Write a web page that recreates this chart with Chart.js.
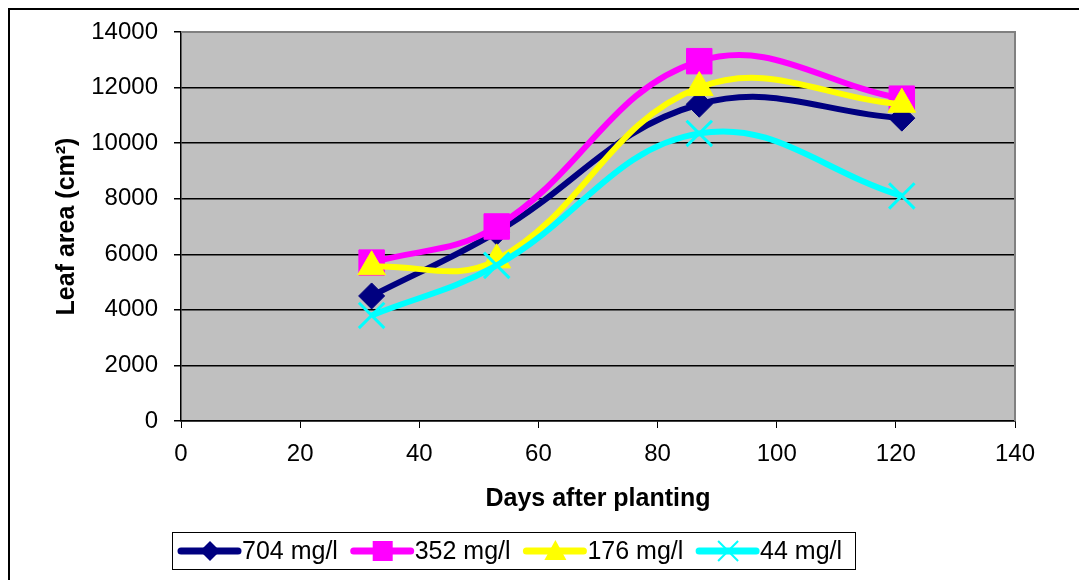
<!DOCTYPE html>
<html>
<head>
<meta charset="utf-8">
<script src="https://cdn.jsdelivr.net/npm/chart.js@4"></script>
<style>
  body { margin: 0; background: #fff; }
  #wrap { width: 1079px; height: 580px; }
</style>
</head>
<body>
<div id="wrap"><canvas id="myChart" width="1079" height="580"></canvas></div>
<script>
const days = [32, 53, 87, 121];
const seriesNames = ['704 mg/l', '352 mg/l', '176 mg/l', '44 mg/l'];
const leaf704 = [4500, 6800, 11400, 10900];
const leaf352 = [5700, 7000, 12950, 11600];
const leaf176 = [5550, 5800, 12000, 11400];
const leaf44 = [3800, 5600, 10350, 8100];
const xTicks = [0, 20, 40, 60, 80, 100, 120, 140];
const yTicks = [0, 2000, 4000, 6000, 8000, 10000, 12000, 14000];

const colors = ['#000080', '#FF00FF', '#FFFF00', '#00FFFF'];
const markers = ['rectRot', 'rect', 'triangle', 'crossRot'];
const radii = [13, 18, 16, 18];

function points(values) {
    return days.map((d, i) => ({ x: d, y: values[i] }))
}

const allValues = [leaf704, leaf352, leaf176, leaf44];

const datasets = allValues.map((vals, i) => ({
    label: seriesNames[i],
    data: points(vals),
    borderColor: colors[i],
    backgroundColor: colors[i],
    borderWidth: 6,
    tension: 0.4,
    pointStyle: markers[i],
    pointRadius: radii[i],
    pointHoverRadius: radii[i],
    pointBackgroundColor: colors[i],
    pointBorderColor: colors[i],
    pointBorderWidth: markers[i] == 'crossRot' ? 3 : 1,
    order: 3 - i,
}));

// grey plot area + frame + legend box
const decor = {
    id: 'decor',
    beforeDraw(chart) {
        const ctx = chart.ctx, a = chart.chartArea;
        ctx.save();
        ctx.fillStyle = '#fff';
        ctx.fillRect(0, 0, chart.width, chart.height);
        ctx.strokeStyle = '#000';
        ctx.lineWidth = 2;
        ctx.strokeRect(9, 9, chart.width + 20, chart.height + 20);
        ctx.fillStyle = '#C0C0C0';
        ctx.fillRect(a.left, a.top, a.right - a.left, a.bottom - a.top);
        ctx.restore();
    },
    beforeDatasetsDraw(chart) {
        const ctx = chart.ctx, a = chart.chartArea;
        ctx.save();
        ctx.strokeStyle = '#808080';
        ctx.lineWidth = 2;
        ctx.beginPath();
        ctx.moveTo(a.left, a.top);
        ctx.lineTo(a.right, a.top);
        ctx.lineTo(a.right, a.bottom);
        ctx.stroke();
        ctx.restore();
    },
    afterDraw(chart) {
        const ctx = chart.ctx;
        ctx.save();
        ctx.strokeStyle = '#000';
        ctx.lineWidth = 1;
        ctx.strokeRect(172.5, 532.5, 683, 37);
        const cy = 551;
        chart.data.datasets.forEach((ds, i) => {
            const x0 = 178 + i * 172.7;
            ctx.strokeStyle = ds.borderColor;
            ctx.lineWidth = 7;
            ctx.lineCap = 'round';
            ctx.beginPath();
            ctx.moveTo(x0 + 3, cy);
            ctx.lineTo(x0 + 60, cy);
            ctx.stroke();
            const mx = x0 + 32;
            ctx.fillStyle = ds.borderColor;
            ctx.lineWidth = 2;
            ctx.lineCap = 'butt';
            ctx.beginPath();
            if (ds.pointStyle == 'rectRot') {
                ctx.moveTo(mx, cy - 10); ctx.lineTo(mx + 10, cy); ctx.lineTo(mx, cy + 10); ctx.lineTo(mx - 10, cy);
                ctx.closePath(); ctx.fill();
            } else if (ds.pointStyle == 'rect') {
                ctx.rect(mx - 10, cy - 10, 20, 20); ctx.fill();
            } else if (ds.pointStyle == 'triangle') {
                ctx.moveTo(mx, cy - 11); ctx.lineTo(mx + 11, cy + 9); ctx.lineTo(mx - 11, cy + 9);
                ctx.closePath(); ctx.fill();
            } else {
                ctx.moveTo(mx - 10, cy - 10); ctx.lineTo(mx + 10, cy + 10);
                ctx.moveTo(mx + 10, cy - 10); ctx.lineTo(mx - 10, cy + 10);
                ctx.stroke();
            }
            ctx.fillStyle = '#000';
            ctx.font = '25px Arial, "Liberation Sans", sans-serif';
            ctx.textBaseline = 'middle';
            ctx.textAlign = 'left';
            ctx.fillText(ds.label, x0 + 64, cy + 1);
        });
        ctx.restore();
    }
};

Chart.defaults.font.family = 'Arial, "Liberation Sans", sans-serif';
Chart.defaults.color = '#000';

new Chart(document.getElementById('myChart'), {
    type: 'line',
    data: { datasets: datasets },
    options: {
        responsive: false,
        animation: false,
        layout: { padding: { left: 0, top: 32, right: 64, bottom: 59 } },
        plugins: {
            legend: { display: false },
            tooltip: { enabled: false },
        },
        scales: {
            x: {
                type: 'linear',
                min: 0,
                max: 140,
                afterFit(scale) { scale.height = 100 },
                afterBuildTicks(scale) { scale.ticks = xTicks.map(v => ({ value: v })) },
                ticks: { font: { size: 24 }, padding: 12, maxRotation: 0, callback: v => String(v) },
                grid: { drawOnChartArea: false, drawTicks: true, tickLength: 7, color: '#000' },
                border: { color: '#000', width: 1.5 },
                title: {
                    display: true,
                    text: 'Days after planting',
                    font: { size: 25, weight: 'bold' },
                    padding: { top: 0, bottom: 7 },
                },
            },
            y: {
                min: 0,
                max: 14000,
                afterFit(scale) { scale.width = 181 },
                afterBuildTicks(scale) { scale.ticks = yTicks.map(v => ({ value: v })) },
                ticks: { font: { size: 24 }, padding: 16, callback: v => String(v) },
                grid: { color: '#000', lineWidth: 1.5, tickLength: 7 },
                border: { color: '#000', width: 1.5 },
                title: {
                    display: true,
                    text: 'Leaf area (cm²)',
                    font: { size: 25, weight: 'bold' },
                    padding: { top: 52, bottom: 0 },
                },
            },
        },
    },
    plugins: [decor],
});
</script>
</body>
</html>
